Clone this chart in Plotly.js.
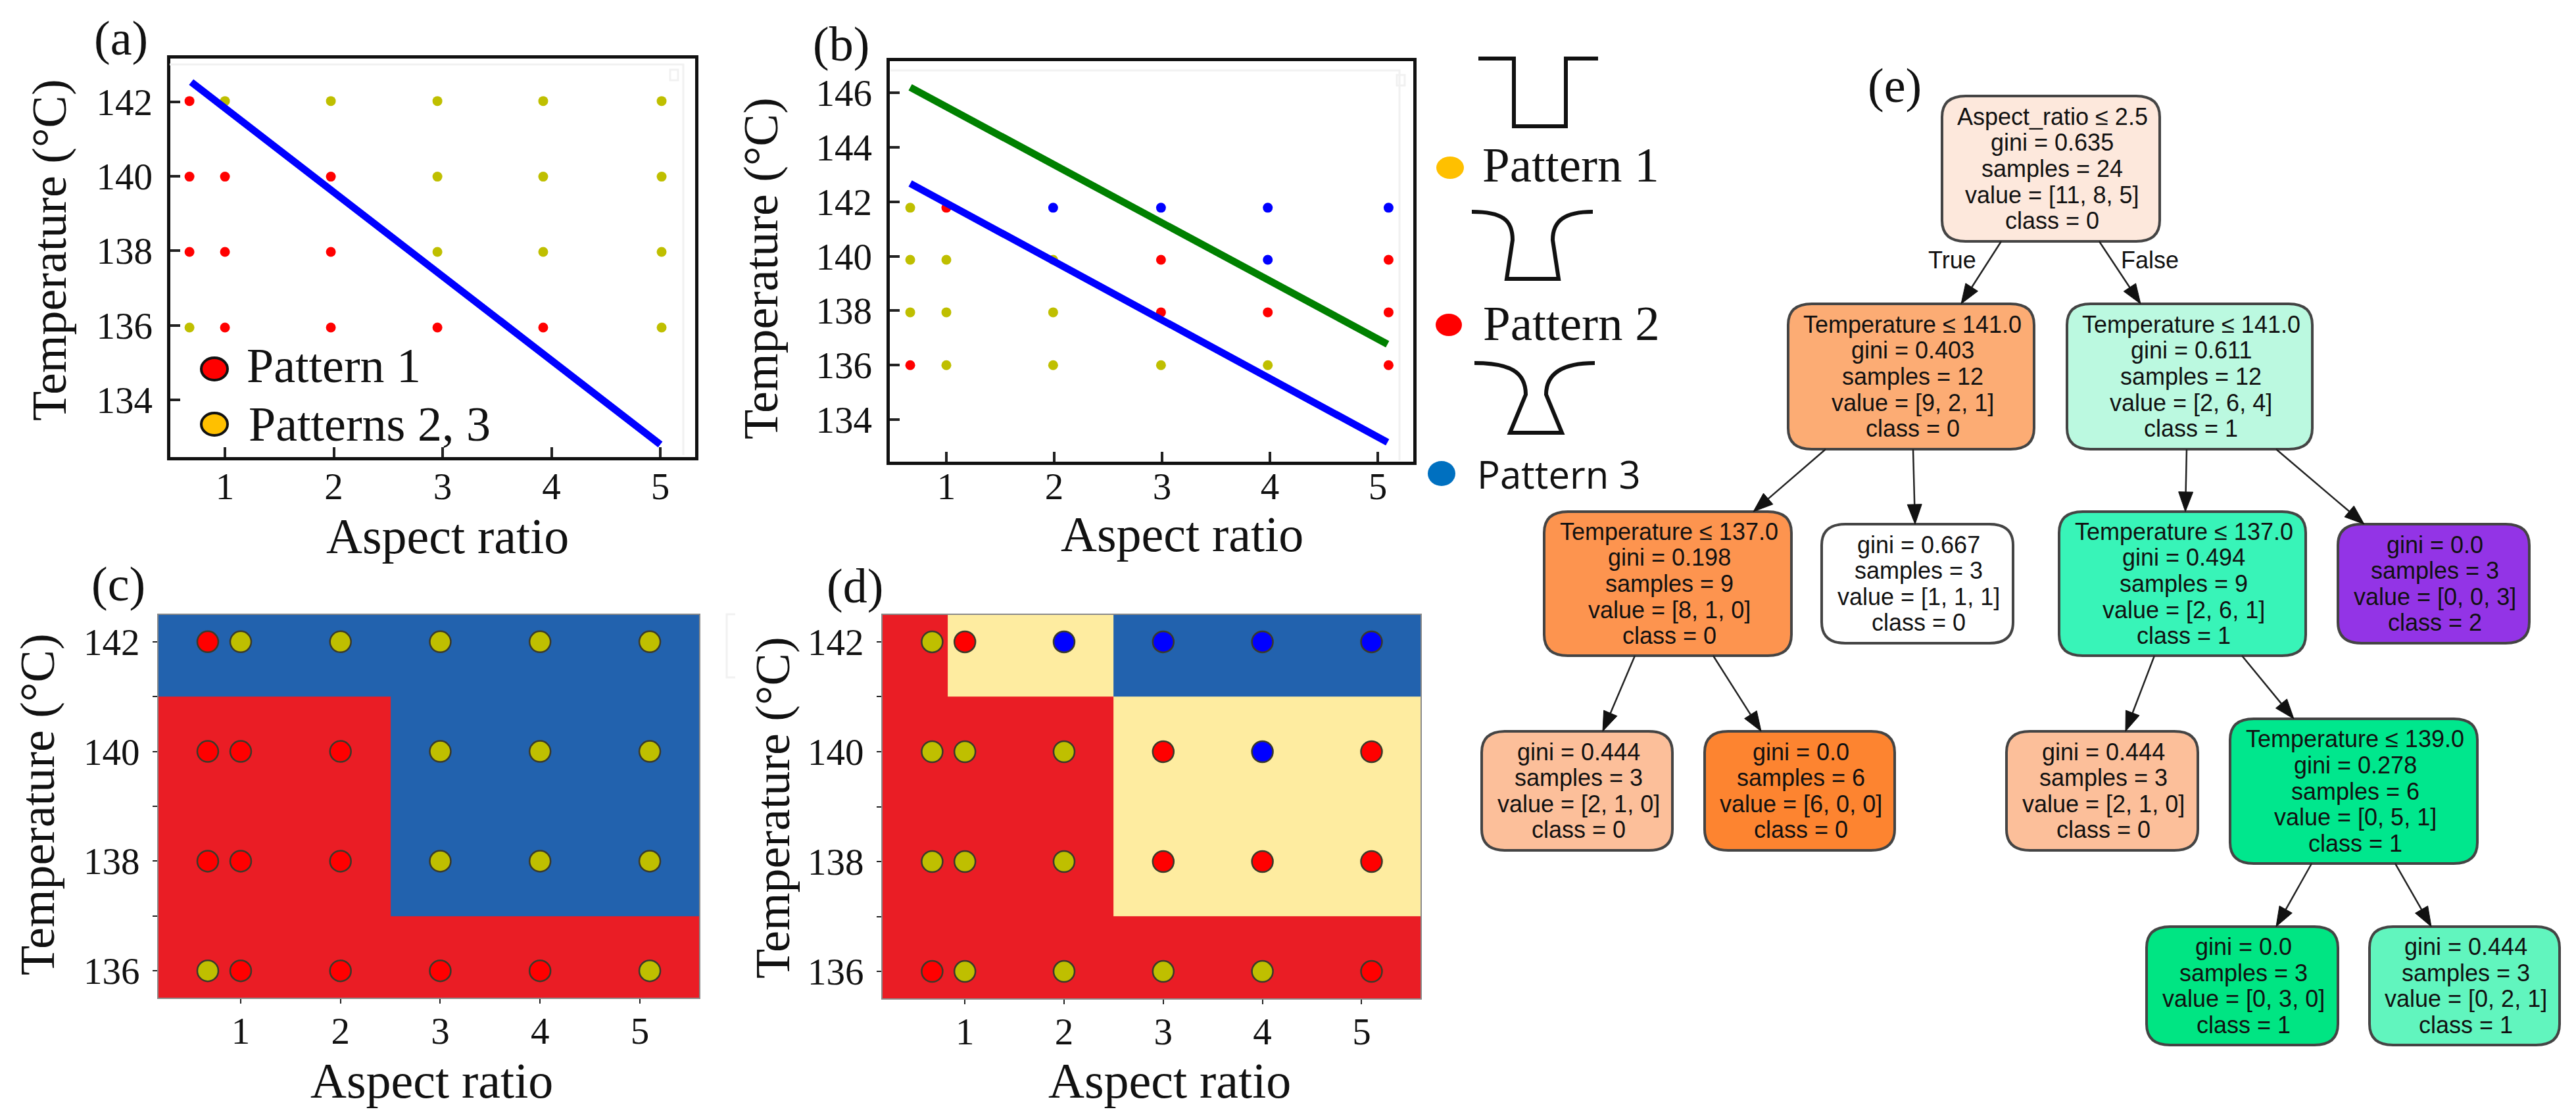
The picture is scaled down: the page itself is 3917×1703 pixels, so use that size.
<!DOCTYPE html>
<html><head><meta charset="utf-8">
<script src="https://cdn.plot.ly/plotly-3.0.1.min.js"></script>
<style>html,body{margin:0;padding:0;background:#fff}</style>
</head><body><div id="chart" style="width:3917px;height:1703px"></div>
<script>
// ---------- data ----------
const tempLevels = [142, 140, 138, 136];
const xRatioA = [0.674, 1, 1.973, 2.952, 3.924, 5.012];
const yTempA  = [142.02, 139.99, 137.97, 135.94];
const xRatioB = [0.665, 1, 1.99, 2.99, 3.98, 5.1];
const yTempB  = [141.78, 139.87, 137.94, 136.0];
const xRatioCD = [0.67, 1, 2, 3, 4, 5.1];
// r = red, y = yellow, b = blue; rows follow tempLevels, columns follow the ratios
const classesAC = ["ryyyyy", "rrryyy", "rrryyy", "yrrrry"];
const classesBD = ["yrbbbb", "yyyrbr", "yyyrrr", "ryyyyr"];
const lineAx = [0.69, 5.0],  lineAy = [142.53, 132.8];
const lineB1x = [0.665, 5.09], lineB1y = [142.67, 133.17];
const lineB2x = [0.665, 5.09], lineB2y = [146.2, 136.77];
const regionXC = [0.17, 2.5, 5.6], regionYC = [135.5, 137, 141, 142.5];
const regionZC = [[0,0],[0,2],[2,2]];
const regionXD = [0.164, 0.83, 2.5, 5.6], regionYD = [135.5, 137, 141, 142.5];
const regionZD = [[0,0,0],[0,0,1],[0,1,2]];
const ticksX = [1,2,3,4,5];
const ticksYAB = {a:[142,140,138,136,134], b:[146,144,142,140,138,136,134]};
const ticksYCD = [142,141,140,139,138,137,136];
const ticksYCDText = ["142","","140","","138","","136"];
const treeText = [
 ["Aspect_ratio ≤ 2.5","gini = 0.635","samples = 24","value = [11, 8, 5]","class = 0"],
 ["Temperature ≤ 141.0","gini = 0.403","samples = 12","value = [9, 2, 1]","class = 0"],
 ["Temperature ≤ 141.0","gini = 0.611","samples = 12","value = [2, 6, 4]","class = 1"],
 ["Temperature ≤ 137.0","gini = 0.198","samples = 9","value = [8, 1, 0]","class = 0"],
 ["gini = 0.667","samples = 3","value = [1, 1, 1]","class = 0"],
 ["Temperature ≤ 137.0","gini = 0.494","samples = 9","value = [2, 6, 1]","class = 1"],
 ["gini = 0.0","samples = 3","value = [0, 0, 3]","class = 2"],
 ["gini = 0.444","samples = 3","value = [2, 1, 0]","class = 0"],
 ["gini = 0.0","samples = 6","value = [6, 0, 0]","class = 0"],
 ["gini = 0.444","samples = 3","value = [2, 1, 0]","class = 0"],
 ["Temperature ≤ 139.0","gini = 0.278","samples = 6","value = [0, 5, 1]","class = 1"],
 ["gini = 0.0","samples = 3","value = [0, 3, 0]","class = 1"],
 ["gini = 0.444","samples = 3","value = [0, 2, 1]","class = 1"]
];
const treeEdges = [[0,1],[0,2],[1,3],[1,4],[2,5],[2,6],[3,7],[3,8],[5,9],[5,10],[10,11],[10,12]];

// ---------- layout tables (pixels on the page) ----------
const W = 3917, H = 1703;
const SERIF = "Liberation Serif", SANS = "Liberation Sans";
const treeBoxes = [
 [2953,3284,146,367,"#fde8dc"],[2719,3093,462,683,"#fcac74"],[3143,3516,462,683,"#bbf9e0"],
 [2348,2724,778,997,"#fd944f"],[2770,3061,797,978,"#ffffff"],[3131,3506,778,997,"#38f4b8"],
 [3555,3846,797,978,"#9334e6"],[2253,2543,1112,1293,"#fcbf9a"],[2592,2881,1112,1293,"#fd8430"],
 [3051,3342,1112,1293,"#fcbf9a"],[3391,3767,1093,1313,"#00e78d"],[3264,3555,1409,1589,"#00e583"],
 [3603,3892,1409,1589,"#61f5be"]
];
const edgePixels = [
 [3043,367,2982,462],[3192,367,3255,462],[2776,683,2666,778],[2909,683,2912,797],
 [3325,683,3323,778],[3461,683,3595,797],[2486,997,2437,1112],[2605,997,2678,1112],
 [3276,997,3232,1112],[3409,997,3488,1093],[3515,1313,3461,1409],[3642,1313,3697,1409]
];
const px = x => x / W, py = y => 1 - y / H;
const P = (x, y) => px(x).toFixed(5) + "," + py(y).toFixed(5);

// ---------- colours ----------
const dotColor = {r:"#ff0000", y:"#bfbf00", b:"#0000ff"};
const regionScale = [[0,"#ea1d25"],[0.33,"#ea1d25"],[0.33,"#feeca0"],[0.66,"#feeca0"],[0.66,"#2262ae"],[1,"#2262ae"]];

// ---------- traces ----------
function dots(xs, ys, rows, xa, ya, size, line) {
  const x = [], y = [], c = [];
  rows.forEach((row, i) => [...row].forEach((k, j) => { x.push(xs[j]); y.push(ys[i]); c.push(dotColor[k]); }));
  return {type:"scatter", mode:"markers", x, y, xaxis:xa, yaxis:ya, hoverinfo:"skip",
    marker:{size, color:c, line:line ? {color:"#3a3a2a", width:2.5} : {width:0}}};
}
const lineTrace = (x, y, xa, ya, color) => ({type:"scatter", mode:"lines", x, y, xaxis:xa, yaxis:ya, hoverinfo:"skip",
  line:{color, width:11}});
const region = (x, y, z, xa, ya) => ({type:"heatmap", x, y, z, xaxis:xa, yaxis:ya, colorscale:regionScale,
  zmin:0, zmax:2, showscale:false, hoverinfo:"skip", zsmooth:false});

const traces = [
  dots(xRatioA, yTempA, classesAC, "x", "y", 15, false),
  lineTrace(lineAx, lineAy, "x", "y", "#0000ff"),
  dots(xRatioB, yTempB, classesBD, "x2", "y2", 15, false),
  lineTrace(lineB1x, lineB1y, "x2", "y2", "#0000ff"),
  lineTrace(lineB2x, lineB2y, "x2", "y2", "#008000"),
  region(regionXC, regionYC, regionZC, "x3", "y3"),
  dots(xRatioCD, tempLevels, classesAC, "x3", "y3", 32, true),
  region(regionXD, regionYD, regionZD, "x4", "y4"),
  dots(xRatioCD, tempLevels, classesBD, "x4", "y4", 32, true)
];

// ---------- axes ----------
function axis(domain, range, vals, text, boxed, anchor, standoff) {
  return {domain, range, anchor, tickmode:"array", tickvals:vals, ticktext:text || vals.map(String),
    showgrid:false, zeroline:false, showline:true, mirror:true,
    linecolor: boxed ? "#111111" : "#8a8a8a", linewidth: boxed ? 5 : 2,
    ticks: boxed ? "inside" : "outside", ticklen: boxed ? 15 : 7, tickwidth: boxed ? 4 : 2, tickcolor:"#222222",
    tickfont:{family:SERIF, size:57, color:"#111111"}, ticklabelstandoff: standoff, layer:"above traces"};
}
const dX = (l, r) => [px(l), px(r)], dY = (t, b) => [py(b), py(t)];

// ---------- annotations ----------
const ann = [];
function label(text, x, y, size, opts) {
  ann.push(Object.assign({text, x:px(x), y:py(y), xref:"paper", yref:"paper", showarrow:false,
    xanchor:"center", yanchor:"middle", font:{family:SERIF, size, color:"#111111"}}, opts || {}));
}
[["(a)",184,58],["(b)",1279,67],["(c)",180,888],["(d)",1300,891],["(e)",2881,130]]
  .forEach(([t,x,y]) => label(t, x, y, 74));
[[680,815],[1797,812],[656,1643],[1778,1643]].forEach(([x,y]) => label("Aspect ratio", x, y, 76));
[[75,380],[1157,408],[57,1223],[1175,1228]].forEach(([x,y]) => label("Temperature (°C)", x, y, 74, {textangle:-90}));
label("Pattern 1", 507, 556, 74);
label("Patterns 2, 3", 562, 645, 74);
label("Pattern 1", 2388, 250, 75);
label("Pattern 2", 2389, 492, 75);
label("Pattern 3", 2370, 721, 58, {font:{family:"Open Sans", size:58, color:"#111111"}});

treeText.forEach((lines, n) => {
  const [l, r, t, b] = treeBoxes[n];
  const cx = (l + r) / 2 + 2, cy = (t + b) / 2, step = 39.6;
  lines.forEach((s, i) => label(s, cx, cy + (i - (lines.length - 1) / 2) * step, 36,
    {font:{family:SANS, size:36, color:"#111111"}}));
});
label("True", 2968, 396, 36, {font:{family:SANS, size:36, color:"#111111"}});
label("False", 3269, 396, 36, {font:{family:SANS, size:36, color:"#111111"}});

// ---------- decorations ----------
const shapes = [];
const pathShape = (path, extra) => shapes.push(Object.assign({type:"path", xref:"paper", yref:"paper", path}, extra));
function ellipse(x, y, rx, ry, fill, stroke) {
  shapes.push({type:"circle", xref:"paper", yref:"paper", x0:px(x-rx), x1:px(x+rx), y0:py(y+ry), y1:py(y-ry),
    fillcolor:fill, line:stroke ? {color:"#111111", width:4} : {width:0}});
}
ellipse(326, 561, 20, 17, "#ff0000", true);
ellipse(326, 645, 20, 17, "#ffc000", true);
ellipse(2205, 255, 21, 17, "#ffc000", false);
ellipse(2203, 494, 20, 17, "#ff0000", false);
ellipse(2192, 720, 21, 19, "#0070c0", false);

const schematic = {color:"#111111", width:6};
pathShape(`M${P(2248,89)} L${P(2302,89)} L${P(2302,192)} L${P(2381,192)} L${P(2381,89)} L${P(2430,89)}`, {line:schematic});
pathShape(`M${P(2238,322)} C${P(2285,322)} ${P(2300,335)} ${P(2300,365)} L${P(2291,424)} L${P(2370,424)} L${P(2361,365)} C${P(2361,335)} ${P(2380,322)} ${P(2422,322)}`, {line:schematic});
pathShape(`M${P(2242,552)} C${P(2295,552)} ${P(2320,565)} ${P(2320,600)} L${P(2296,658)} L${P(2375,658)} L${P(2351,600)} C${P(2351,565)} ${P(2380,552)} ${P(2425,552)}`, {line:schematic});

// faint ghost frames visible in the source panels
const faint = {color:"#f1f1f1", width:3};
pathShape(`M${P(258,98)} L${P(1039,98)} L${P(1039,692)}`, {line:faint});
pathShape(`M${P(1354,107)} L${P(2128,107)} L${P(2128,700)}`, {line:faint});
pathShape(`M${P(1118,934)} L${P(1105,934)} L${P(1105,1030)} L${P(1118,1030)}`, {line:faint});
shapes.push({type:"rect", xref:"paper", yref:"paper", x0:px(1019), x1:px(1031), y0:py(122), y1:py(106), line:faint});
shapes.push({type:"rect", xref:"paper", yref:"paper", x0:px(2124), x1:px(2136), y0:py(130), y1:py(114), line:faint});

treeBoxes.forEach(([l, r, t, b, fill]) => {
  const rx = 36, ry = 32;
  const d = `M${P(l+rx,t)} L${P(r-rx,t)} Q${P(r,t)} ${P(r,t+ry)} L${P(r,b-ry)} Q${P(r,b)} ${P(r-rx,b)} L${P(l+rx,b)} Q${P(l,b)} ${P(l,b-ry)} L${P(l,t+ry)} Q${P(l,t)} ${P(l+rx,t)} Z`;
  pathShape(d, {fillcolor:fill, line:{color:"#444444", width:4}});
});
treeEdges.forEach((e, i) => {
  const [x0, y0, x1, y1] = edgePixels[i];
  const len = Math.hypot(x1-x0, y1-y0), ux = (x1-x0)/len, uy = (y1-y0)/len, h = 30, w = 11;
  const bx = x1-ux*h, by = y1-uy*h;
  pathShape(`M${P(x0,y0)} L${P(bx,by)}`, {line:{color:"#222222", width:2.5}});
  pathShape(`M${P(x1,y1)} L${P(bx-uy*w,by+ux*w)} L${P(bx+uy*w,by-ux*w)} Z`, {fillcolor:"#111111", line:{color:"#111111", width:1}});
});

// ---------- layout ----------
const layout = {
  width:W, height:H, margin:{l:0,r:0,t:0,b:0,pad:0}, paper_bgcolor:"#ffffff", plot_bgcolor:"#ffffff",
  showlegend:false, annotations:ann, shapes,
  xaxis:  axis(dX(258.5,1056.5), [0.495,5.317], ticksX, null, true, "y", -9),
  yaxis:  axis(dY(88.5,694.5),   [132.47,143.17], ticksYAB.a, null, true, "x", 10),
  xaxis2: axis(dX(1352.5,2149),  [0.4726,5.329], ticksX, null, true, "y2", -16),
  yaxis2: axis(dY(93,701.5),     [132.47,147.16], ticksYAB.b, null, true, "x2", 10),
  xaxis3: axis(dX(241,1063),     [0.176,5.594], ticksX, null, false, "y3", -7),
  yaxis3: axis(dY(935,1517),     [135.51,142.49], ticksYCD, ticksYCDText, false, "x3", 8),
  xaxis4: axis(dX(1342,2160),    [0.17,5.594], ticksX, null, false, "y4", -7),
  yaxis4: axis(dY(935,1518),     [135.51,142.49], ticksYCD, ticksYCDText, false, "x4", 8)
};
Plotly.newPlot("chart", traces, layout, {displayModeBar:false, responsive:false, staticPlot:true});
</script></body></html>
